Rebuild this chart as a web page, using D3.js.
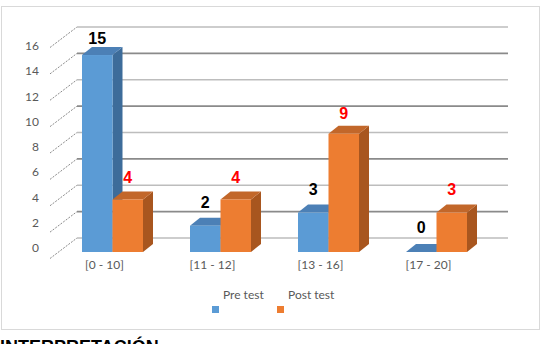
<!DOCTYPE html>
<html><head><meta charset="utf-8">
<script src="https://cdn.jsdelivr.net/npm/d3@7"></script>
<style>body{margin:0;background:#fff}svg{display:block}</style>
</head><body>
<svg id="c" width="544" height="344"></svg>
<script>
const categories = ["[0 - 10]", "[11 - 12]", "[13 - 16]", "[17 - 20]"];
const seriesNames = ["Pre test", "Post test"];
const preTest = [15, 2, 3, 0];
const postTest = [4, 4, 9, 3];
const yTicks = [0, 2, 4, 6, 8, 10, 12, 14, 16];

const colors = {
  "Pre test": {front: "#5B9BD5", top: "#4C80B6", side: "#3D6C9A", label: "#000000"},
  "Post test": {front: "#ED7D31", top: "#C2672A", side: "#A8561F", label: "#FF0000"}
};
const svg = d3.select("#c");
const DX = 10, DY = -8;
const axisFont = "Lato, 'Open Sans', sans-serif";

// frame
svg.append("rect").attr("x", 1.5).attr("y", 6.5).attr("width", 538).attr("height", 323)
  .attr("fill", "#fff").attr("stroke", "#d9d9d9").attr("stroke-width", 1);

const yWall = d3.scaleLinear().domain([0, 16]).range([238, 27]);
const yBar = d3.scaleLinear().domain([0, 16]).range([252, 41.9]);
const yLab = d3.scaleLinear().domain([0, 16]).range([248, 46]);
const x0 = d3.scaleBand().domain(categories).range([58.5, 490.5]).padding(0);
const x1 = d3.scaleBand().domain(seriesNames).range([-30.5, 30.5]).padding(0);

// back wall gridlines
yTicks.forEach((t, i) => {
  svg.append("line").attr("x1", 77).attr("x2", 508).attr("y1", yWall(t)).attr("y2", yWall(t))
    .attr("stroke", i % 2 === 0 ? "#bdbdbd" : "#8a8a8a").attr("stroke-width", 1.7);
  svg.append("line").attr("x1", 50).attr("y1", yWall(t) + 20.5).attr("x2", 77).attr("y2", yWall(t))
    .attr("stroke", "#8a8a8a").attr("stroke-width", 1).attr("stroke-dasharray", "2,1.3");
  svg.append("text").attr("x", 39).attr("y", yLab(t)).attr("dy", "0.35em")
    .attr("text-anchor", "end").attr("font-family", axisFont)
    .attr("font-size", 12).attr("fill", "#595959").text(t);
});

// category labels
categories.forEach(c => {
  svg.append("text").attr("x", x0(c) + x0.bandwidth() / 2 - 8).attr("y", 265).attr("dy", "0.35em")
    .attr("text-anchor", "middle").attr("font-family", axisFont)
    .attr("font-size", 12).attr("fill", "#595959").text(c);
});

// bars
const seriesData = {"Pre test": preTest, "Post test": postTest};
categories.forEach((c, ci) => {
  seriesNames.forEach(s => {
    const v = seriesData[s][ci];
    const xl = x0(c) + x0.bandwidth() / 2 + x1(s);
    const xr = xl + x1.bandwidth();
    const yt = yBar(v), yb = yBar(0);
    const col = colors[s];
    const g = svg.append("g");
    g.append("path").attr("d", `M${xr},${yb}L${xr + DX},${yb + DY}L${xr + DX},${yt + DY}L${xr},${yt}Z`).attr("fill", col.side);
    g.append("path").attr("d", `M${xl},${yt}L${xl + DX},${yt + DY}L${xr + DX},${yt + DY}L${xr},${yt}Z`).attr("fill", col.top);
    if (v > 0) g.append("rect").attr("x", xl).attr("y", yt).attr("width", xr - xl).attr("height", yb - yt).attr("fill", col.front);
  });
});
// data labels
categories.forEach((c, ci) => {
  seriesNames.forEach(s => {
    const v = seriesData[s][ci];
    const xc = x0(c) + x0.bandwidth() / 2 + x1(s) + x1.bandwidth() / 2;
    svg.append("text").attr("x", xc).attr("y", yLab(v) - 15)
      .attr("text-anchor", "middle").attr("font-family", "'Liberation Sans', Arial, sans-serif")
      .attr("font-weight", "bold").attr("font-size", 16).attr("fill", colors[s].label).text(v);
  });
});

// legend
const legendX = {"Pre test": 212, "Post test": 277};
seriesNames.forEach(s => {
  svg.append("rect").attr("x", legendX[s]).attr("y", 306).attr("width", 7).attr("height", 7).attr("fill", colors[s].front);
  svg.append("text").attr("x", legendX[s] + 11).attr("y", 299)
    .attr("font-family", axisFont).attr("font-size", 12).attr("fill", "#595959").text(s);
});

// caption below (cut off at the bottom edge, as in the reference)
svg.append("text").attr("x", 0).attr("y", 353).attr("font-family", "'Liberation Sans', Arial, sans-serif")
  .attr("font-weight", "bold").attr("font-size", 18).attr("fill", "#000").text("INTERPRETACIÓN");
</script>
</body></html>
